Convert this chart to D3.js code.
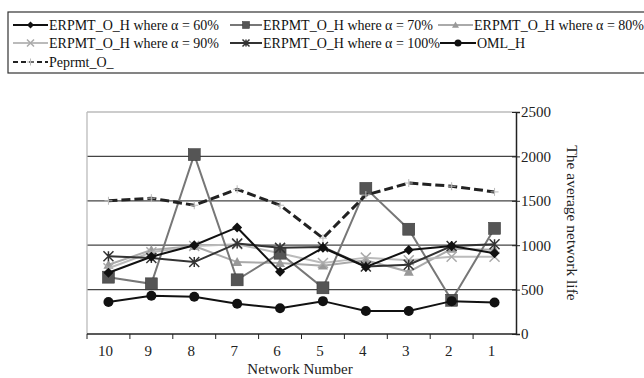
<!DOCTYPE html>
<html>
<head>
<meta charset="utf-8">
<script src="https://cdn.jsdelivr.net/npm/d3@7"></script>
<style>
body { margin: 0; background: #fff; }
</style>
</head>
<body>
<div id="chart"></div>
<script>
const width = 644, height = 378;
const FONT = "'Liberation Serif'";

// data
const networks = ["10", "9", "8", "7", "6", "5", "4", "3", "2", "1"];
const alpha60 = [690, 870, 1000, 1200, 700, 970, 755, 945, 990, 910];
const alpha70 = [640, 565, 2020, 610, 910, 520, 1640, 1180, 380, 1190];
const alpha80 = [780, 945, 990, 810, 800, 770, 830, 700, 960, 950];
const alpha90 = [740, 920, 990, 1010, 910, 800, 860, 830, 870, 870];
const alpha100 = [875, 855, 810, 1020, 970, 980, 760, 780, 990, 1010];
const omlH = [360, 430, 420, 340, 290, 370, 260, 260, 370, 355];
const peprmt = [1500, 1530, 1450, 1630, 1450, 1080, 1565, 1700, 1665, 1600];
const yTicks = [0, 500, 1000, 1500, 2000, 2500];

const series = [
    {name: "ERPMT_O_H where α = 60%", values: alpha60, color: "#111", marker: "diamond", mColor: "#111"},
    {name: "ERPMT_O_H where α = 70%", values: alpha70, color: "#777", marker: "square", mColor: "#555"},
    {name: "ERPMT_O_H where α = 80%", values: alpha80, color: "#aaa", marker: "triangle", mColor: "#999"},
    {name: "ERPMT_O_H where α = 90%", values: alpha90, color: "#bbb", marker: "x", mColor: "#aaa"},
    {name: "ERPMT_O_H where α = 100%", values: alpha100, color: "#333", marker: "star", mColor: "#333"},
    {name: "OML_H", values: omlH, color: "#111", marker: "circle", mColor: "#111"},
    {name: "Peprmt_O_", values: peprmt, color: "#222", marker: "dash", mColor: "#bbb"}
];

const margin = {top: 112, left: 87, right: 128, bottom: 44};

const svg = d3.select("#chart").append("svg").attr("width", width).attr("height", height);

const x = d3.scaleBand().domain(networks).range([margin.left, width - margin.right]);
const y = d3.scaleLinear().domain([0, 2500]).range([height - margin.bottom, margin.top]);

// grid
svg.append("g").selectAll("line").data(yTicks.filter(d => d > 0)).join("line")
    .attr("x1", margin.left).attr("x2", width - margin.right)
    .attr("y1", d => y(d)).attr("y2", d => y(d))
    .attr("stroke", d => d === 2500 ? "#bbb" : "#444").attr("stroke-width", 1.3);

svg.append("line")
    .attr("x1", margin.left).attr("x2", margin.left)
    .attr("y1", y(2500)).attr("y2", y(0))
    .attr("stroke", "#bbb").attr("stroke-width", 1.3);

// x axis
const xAxis = svg.append("g").attr("transform", `translate(0,${y(0)})`);
xAxis.append("line").attr("x1", margin.left).attr("x2", width - margin.right)
    .attr("stroke", "#222").attr("stroke-width", 1.5);
xAxis.selectAll(".tk").data(networks).join("line").attr("class", "tk")
    .attr("x1", d => x(d)).attr("x2", d => x(d)).attr("y1", 0).attr("y2", 5)
    .attr("stroke", "#222");
xAxis.selectAll(".lb").data(networks).join("text").attr("class", "lb")
    .attr("x", d => x(d) + x.bandwidth() / 2 - 3).attr("y", 22)
    .attr("text-anchor", "middle").attr("font-size", 15).attr("fill", "#222")
    .style("font-family", FONT)
    .text(d => d);
svg.append("text").attr("x", 300).attr("y", 374)
    .attr("text-anchor", "middle").attr("font-size", 15).attr("fill", "#222")
    .style("font-family", FONT)
    .text("Network Number");

// right y axis
const yAxis = d3.axisRight(y).tickValues(yTicks).tickSize(4).tickPadding(1).tickFormat(d3.format("d"));
const ya = svg.append("g").attr("transform", `translate(${width - margin.right},0)`).call(yAxis);
ya.select(".domain").attr("stroke", "#222").attr("stroke-width", 1.5);
ya.selectAll(".tick line").attr("x1", -4).attr("stroke", "#222");
ya.selectAll("text").attr("font-size", 15).attr("fill", "#222")
    .style("font-family", FONT);
svg.append("text")
    .attr("transform", `translate(567,${(y(0) + y(2500)) / 2}) rotate(90)`)
    .attr("text-anchor", "middle").attr("font-size", 15.5).attr("fill", "#222")
    .style("font-family", FONT)
    .text("The average network life");

// markers
function drawMarker(g, type, color, cx, cy, s) {
    if (type === "diamond") {
        g.append("path").attr("d", `M${cx},${cy - s}L${cx + s},${cy}L${cx},${cy + s}L${cx - s},${cy}Z`).attr("fill", color);
    } else if (type === "square") {
        g.append("rect").attr("x", cx - s).attr("y", cy - s).attr("width", 2 * s).attr("height", 2 * s)
            .attr("fill", color).attr("stroke", "#333").attr("stroke-width", 0.5);
    } else if (type === "triangle") {
        g.append("path").attr("d", `M${cx},${cy - s}L${cx + s},${cy + s * 0.8}L${cx - s},${cy + s * 0.8}Z`).attr("fill", color);
    } else if (type === "x") {
        g.append("path").attr("d", `M${cx - s},${cy - s}L${cx + s},${cy + s}M${cx + s},${cy - s}L${cx - s},${cy + s}`)
            .attr("stroke", color).attr("stroke-width", 1.5);
    } else if (type === "star") {
        g.append("path").attr("d", `M${cx - s},${cy - s}L${cx + s},${cy + s}M${cx + s},${cy - s}L${cx - s},${cy + s}M${cx},${cy - s}L${cx},${cy + s}`)
            .attr("stroke", color).attr("stroke-width", 1.5);
    } else if (type === "circle") {
        g.append("circle").attr("cx", cx).attr("cy", cy).attr("r", s).attr("fill", color);
    } else if (type === "dash") {
        g.append("path").attr("d", `M${cx},${cy - s}L${cx},${cy + s}M${cx - s},${cy}L${cx + s},${cy}`)
            .attr("stroke", color).attr("stroke-width", 1);
    }
}

const line = d3.line().x((d, i) => x(networks[i]) + x.bandwidth() / 2).y(d => y(d));
const sizes = {diamond: 5, square: 6, triangle: 5, x: 5, star: 5, circle: 5, dash: 4};

// draw order: lighter ones underneath
[2, 3, 1, 4, 0, 5, 6].forEach(k => {
    const s = series[k];
    const g = svg.append("g");
    g.append("path").datum(s.values).attr("d", line).attr("fill", "none")
        .attr("stroke", s.color)
        .attr("stroke-width", s.marker === "dash" ? 3 : 2)
        .attr("stroke-dasharray", s.marker === "dash" ? "9,4" : null);
    s.values.forEach((v, i) => drawMarker(g, s.marker, s.mColor, x(networks[i]) + x.bandwidth() / 2, y(v), sizes[s.marker]));
});

// legend
const legend = svg.append("g");
legend.append("rect").attr("x", 8).attr("y", 12).attr("width", 700).attr("height", 61)
    .attr("fill", "none").attr("stroke", "#333").attr("stroke-width", 1.2);
const legendPos = [
    [13, 25, 35], [230, 25, 32], [438, 25, 35],
    [13, 43, 35], [230, 43, 32], [440, 43, 36],
    [13, 62, 35]
];
series.forEach((s, k) => {
    const [lx, ly, lw] = legendPos[k];
    const g = legend.append("g");
    g.append("line").attr("x1", lx).attr("x2", lx + lw).attr("y1", ly).attr("y2", ly)
        .attr("stroke", s.color).attr("stroke-width", 2)
        .attr("stroke-dasharray", s.marker === "dash" ? "5,3" : null);
    drawMarker(g, s.marker, s.mColor, lx + lw / 2, ly, 3.5);
    g.append("text").attr("x", lx + lw + 1).attr("y", ly + 5)
        .attr("font-size", 14).attr("fill", "#111")
        .style("font-family", FONT)
        .text(s.name);
});
</script>
</body>
</html>
